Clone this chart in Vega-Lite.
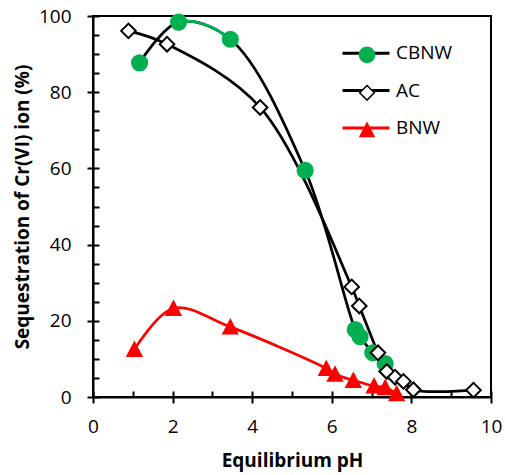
{
  "$schema": "https://vega.github.io/schema/vega-lite/v6.json",
  "width": 398,
  "height": 381,
  "autosize": {"type": "none"},
  "padding": {"left": 93, "top": 16, "right": 14, "bottom": 78},
  "background": "white",
  "config": {
    "font": "Open Sans",
    "view": {"stroke": "black", "strokeWidth": 2},
    "axis": {
      "labelFont": "Open Sans",
      "labelFontSize": 19,
      "labelColor": "black",
      "titleFont": "Open Sans",
      "titleFontSize": 19,
      "titleFontWeight": "bold",
      "titleColor": "black",
      "domainColor": "black",
      "domainWidth": 2,
      "tickColor": "black",
      "tickWidth": 2,
      "tickSize": 6,
      "gridColor": "black",
      "gridWidth": 2,
      "gridOpacity": 1,
      "labelOverlap": false,
      "labelFlush": false
    },
    "legend": {
      "labelFont": "Open Sans",
      "labelFontSize": 19,
      "labelColor": "black",
      "padding": 0,
      "orient": "none"
    }
  },
  "data": {
    "values": [
      {"series": "CBNW", "ph": 1.17, "q": 87.7},
      {"series": "CBNW", "ph": 2.15, "q": 98.4},
      {"series": "CBNW", "ph": 3.45, "q": 93.9},
      {"series": "CBNW", "ph": 5.33, "q": 59.5},
      {"series": "CBNW", "ph": 6.59, "q": 17.7},
      {"series": "CBNW", "ph": 6.71, "q": 15.8},
      {"series": "CBNW", "ph": 7.03, "q": 11.6},
      {"series": "CBNW", "ph": 7.34, "q": 8.8},
      {"series": "AC", "ph": 0.89, "q": 96.1},
      {"series": "AC", "ph": 1.86, "q": 92.6},
      {"series": "AC", "ph": 4.2, "q": 76.0},
      {"series": "AC", "ph": 6.5, "q": 28.9},
      {"series": "AC", "ph": 6.69, "q": 23.9},
      {"series": "AC", "ph": 7.16, "q": 11.6},
      {"series": "AC", "ph": 7.38, "q": 6.7},
      {"series": "AC", "ph": 7.59, "q": 5.2},
      {"series": "AC", "ph": 7.8, "q": 4.1},
      {"series": "AC", "ph": 8.05, "q": 1.9},
      {"series": "AC", "ph": 9.56, "q": 1.8},
      {"series": "BNW", "ph": 1.04, "q": 12.5},
      {"series": "BNW", "ph": 2.02, "q": 23.3},
      {"series": "BNW", "ph": 3.45, "q": 18.4},
      {"series": "BNW", "ph": 5.86, "q": 7.5},
      {"series": "BNW", "ph": 6.08, "q": 6.0},
      {"series": "BNW", "ph": 6.54, "q": 4.4},
      {"series": "BNW", "ph": 7.06, "q": 2.9},
      {"series": "BNW", "ph": 7.34, "q": 2.5},
      {"series": "BNW", "ph": 7.63, "q": 0.9}
    ]
  },
  "encoding": {
    "x": {
      "field": "ph",
      "type": "quantitative",
      "scale": {"domain": [0, 10], "nice": false},
      "axis": {
        "title": "Equilibrium pH",
        "values": [0,0.5,1,1.5,2,2.5,3,3.5,4,4.5,5,5.5,6,6.5,7,7.5,8,8.5,9,9.5,10],
        "format": "d",
        "labelExpr": "datum.value % 2 === 0 ? datum.label : ''",
        "tickOpacity": {"condition": {"test": "datum.value % 2 === 0", "value": 1}, "value": 0},
        "grid": true,
        "gridDash": [0, 375, 6, 3000],
        "labelPadding": 14,
        "titlePadding": 15
      }
    },
    "y": {
      "field": "q",
      "type": "quantitative",
      "scale": {"domain": [0, 100], "nice": false},
      "axis": {
        "title": "Sequestration of Cr(VI) ion (%)",
        "values": [0,5,10,15,20,25,30,35,40,45,50,55,60,65,70,75,80,85,90,95,100],
        "format": "d",
        "labelExpr": "datum.value % 20 === 0 ? datum.label : ''",
        "tickOpacity": {"condition": {"test": "datum.value % 20 === 0", "value": 1}, "value": 0},
        "grid": true,
        "gridDash": [6, 3000],
        "labelPadding": 16,
        "titlePadding": 6
      }
    }
  },
  "layer": [
    {
      "mark": {"type": "line", "interpolate": "catmull-rom", "strokeWidth": 2.75},
      "encoding": {
        "color": {
          "field": "series",
          "type": "nominal",
          "sort": ["CBNW", "AC", "BNW"],
          "scale": {"range": ["black", "black", "#FF0000"]},
          "legend": {
            "title": null,
            "legendX": 248,
            "legendY": 12.3,
            "rowPadding": 2.3,
            "symbolType": "stroke",
            "symbolSize": 2209,
            "symbolStrokeWidth": 3,
            "labelOffset": 5
          }
        }
      }
    },
    {
      "transform": [{"filter": "datum.series === 'CBNW'"}],
      "mark": {"type": "line", "interpolate": "catmull-rom", "strokeWidth": 2.75, "color": "#00B050", "strokeDash": [0, 58, 60, 5000]},
      "encoding": {}
    },
    {
      "mark": {"type": "point", "opacity": 1, "strokeWidth": 2, "filled": false},
      "encoding": {
        "shape": {
          "field": "series", "type": "nominal",
          "scale": {"domain": ["CBNW", "AC", "BNW"], "range": ["circle", "diamond", "M0,-0.95L1,0.95L-1,0.95Z"]},
          "legend": {"title": null, "legendX": 264.5, "legendY": 29.3, "rowPadding": 16, "labelExpr": "''"}
        },
        "fill": {
          "field": "series", "type": "nominal",
          "scale": {"domain": ["CBNW", "AC", "BNW"], "range": ["#00B050", "white", "#FF0000"]},
          "legend": {"title": null, "legendX": 264.5, "legendY": 29.3, "rowPadding": 16, "labelExpr": "''"}
        },
        "stroke": {
          "field": "series", "type": "nominal",
          "scale": {"domain": ["CBNW", "AC", "BNW"], "range": ["#00B050", "black", "#FF0000"]},
          "legend": {"title": null, "legendX": 264.5, "legendY": 29.3, "rowPadding": 16, "labelExpr": "''"}
        },
        "size": {
          "field": "series", "type": "nominal",
          "scale": {"domain": ["CBNW", "AC", "BNW"], "range": [230, 196, 256]},
          "legend": {"title": null, "legendX": 264.5, "legendY": 29.3, "rowPadding": 16, "labelExpr": "''"}
        }
      }
    }
  ]
}
